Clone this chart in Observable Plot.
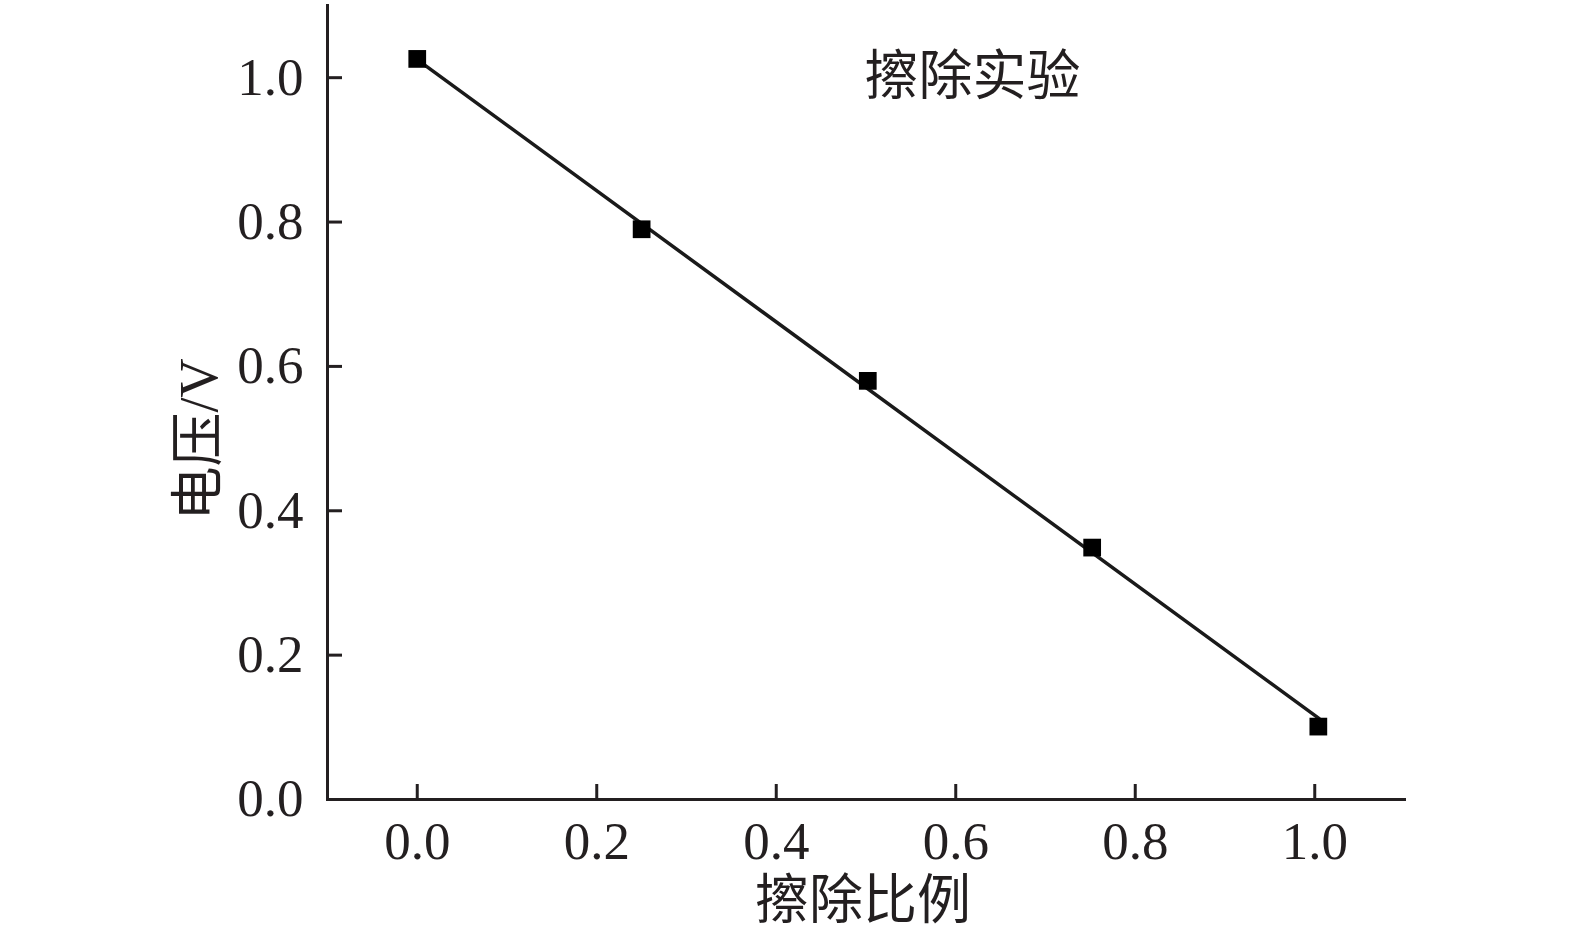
<!DOCTYPE html>
<html>
<head>
<meta charset="utf-8">
<script src="https://cdn.jsdelivr.net/npm/d3@7"></script>
<script src="https://cdn.jsdelivr.net/npm/@observablehq/plot@0.6"></script>
<style>
  html, body { margin: 0; padding: 0; background: #fff; }
  #chart { width: 1575px; height: 941px; }
</style>
</head>
<body>
<div id="chart"></div>
<script>
// Data
const ratio = [0, 0.25, 0.502, 0.752, 1.004];
const voltage = [1.026, 0.790, 0.580, 0.349, 0.101];
const fitRatio = [0, 1.005];
const fitVoltage = [1.025, 0.112];
const xTicks = [0, 0.2, 0.4, 0.6, 0.8, 1.0];
const yTicks = [0, 0.2, 0.4, 0.6, 0.8, 1.0];
const title = "擦除实验";
const xLabel = "擦除比例";
const yLabel = "电压/V";

const points = ratio.map((r, i) => ({r, v: voltage[i]}));
const fit = fitRatio.map((r, i) => ({r, v: fitVoltage[i]}));

const ink = "#231f20";
const font = "'Liberation Serif', 'Noto Sans CJK SC', serif";

const chart = Plot.plot({
  width: 1575,
  height: 941,
  marginLeft: 327,
  marginRight: 171,
  marginTop: 5,
  marginBottom: 142,
  style: {fontFamily: font, color: ink, background: "#fff", overflow: "visible"},
  x: {domain: [-0.1, 1.1]},
  y: {domain: [0, 1.1]},
  marks: [
    // tick marks pointing inward
    Plot.axisX(xTicks, {tickSize: 15, dy: -15, strokeWidth: 3, stroke: ink, text: null, label: null}),
    Plot.axisY(yTicks, {tickSize: 15, dx: 15, strokeWidth: 3, stroke: ink, text: null, label: null}),
    // tick labels
    Plot.axisX(xTicks, {tickSize: 0, tickPadding: 22, fontSize: 53, fill: ink, tickFormat: d3.format(".1f"), label: null}),
    Plot.axisY(yTicks, {tickSize: 0, tickPadding: 24, fontSize: 53, fill: ink, tickFormat: d3.format(".1f"), label: null}),
    // axis lines
    Plot.frame({anchor: "bottom", stroke: ink, strokeWidth: 3}),
    Plot.frame({anchor: "left", stroke: ink, strokeWidth: 3}),
    // fitted line
    Plot.line(fit, {x: "r", y: "v", stroke: "#1a1a1a", strokeWidth: 3.5}),
    // data points
    Plot.dot(points, {x: "r", y: "v", symbol: "square", r: 10, fill: "#000", stroke: "none"}),
    // title inside plot
    Plot.text([title], {frameAnchor: "top-left", dx: 645, dy: 72, text: d => d, fontSize: 54, fill: ink, textAnchor: "middle", lineAnchor: "middle", fontFamily: font}),
    // x label
    Plot.text([xLabel], {frameAnchor: "bottom", dx: -3, dy: 102, text: d => d, fontSize: 54, fill: ink, lineAnchor: "middle", fontFamily: font}),
    // y label
    Plot.text([yLabel], {frameAnchor: "left", dx: -128, dy: 118, rotate: -90, text: d => d, fontSize: 54, fill: ink, lineAnchor: "middle", fontFamily: font})
  ]
});
document.getElementById("chart").appendChild(chart);
</script>
</body>
</html>
